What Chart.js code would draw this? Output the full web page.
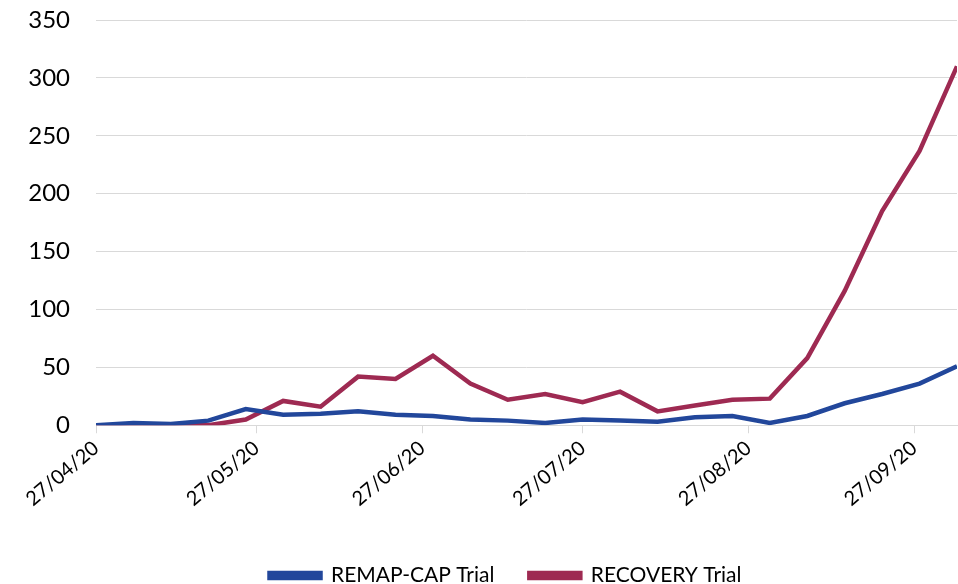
<!DOCTYPE html>
<html>
<head>
<meta charset="utf-8">
<script src="https://cdn.jsdelivr.net/npm/chart.js@4"></script>
<style>
  html, body { margin: 0; padding: 0; background: #fff; }
  #wrap { width: 958px; height: 584px; }
</style>
</head>
<body>
<div id="wrap"><canvas id="chart" width="958" height="584"></canvas></div>
<script>
// days since 27/04/20, weekly
const days = [0, 7, 14, 21, 28, 35, 42, 49, 56, 63, 70, 77, 84, 91, 98, 105, 112, 119, 126, 133, 140, 147, 154, 161];
const remapCap = [0, 2, 1, 4, 14, 9, 10, 12, 9, 8, 5, 4, 2, 5, 4, 3, 7, 8, 2, 8, 19, 27, 36, 51];
const recovery = [0, 0, 0, 0, 5, 21, 16, 42, 40, 60, 36, 22, 27, 20, 29, 12, 17, 22, 23, 58, 116, 185, 237, 310];
const tickDays = [0, 30, 61, 91, 122, 153];
const tickLabels = ['27/04/20', '27/05/20', '27/06/20', '27/07/20', '27/08/20', '27/09/20'];

const FONT = 'Lato, "Open Sans", sans-serif';
const toPoints = (vals) => vals.map((v, i) => ({ x: days[i], y: v }));

// legend sits a little right of centre in the original
const shiftLegend = {
  id: 'shiftLegend',
  afterLayout(chart) { chart.legend.left += 36; },
};

new Chart(document.getElementById('chart').getContext('2d'), {
  type: 'line',
  data: {
    datasets: [
      {
        label: 'REMAP-CAP Trial',
        data: toPoints(remapCap),
        borderColor: '#22479b',
        backgroundColor: '#22479b',
        borderWidth: 4.5,
        pointRadius: 0,
        tension: 0,
      },
      {
        label: 'RECOVERY Trial',
        data: toPoints(recovery),
        borderColor: '#9e2a52',
        backgroundColor: '#9e2a52',
        borderWidth: 4.5,
        pointRadius: 0,
        tension: 0,
      },
    ],
  },
  plugins: [shiftLegend],
  options: {
    responsive: false,
    animation: false,
    layout: { padding: { left: 18, right: 1, top: 20, bottom: -12 } },
    plugins: {
      legend: {
        position: 'bottom',
        labels: {
          color: '#000',
          font: { family: FONT, size: 21 },
          boxWidth: 51,
          boxHeight: 5,
          padding: 35,
        },
      },
      tooltip: { enabled: false },
    },
    scales: {
      x: {
        type: 'linear',
        min: 0,
        max: 161,
        afterBuildTicks: (scale) => { scale.ticks = tickDays.map(v => ({ value: v })); },
        afterFit: (scale) => { scale.paddingLeft = 0; scale.paddingRight = 0; scale.height += 16; },
        ticks: {
          color: '#000',
          font: { family: FONT, size: 20 },
          minRotation: 40,
          maxRotation: 40,
          autoSkip: false,
          callback: (v) => tickLabels[tickDays.indexOf(v)],
        },
        grid: { drawOnChartArea: false, drawTicks: true, tickLength: 8, color: '#d9d9d9' },
        border: { color: '#d9d9d9' },
      },
      y: {
        min: 0,
        max: 350,
        afterFit: (scale) => { scale.width = 78; scale.paddingTop = 0; scale.paddingBottom = 0; },
        ticks: {
          stepSize: 50,
          color: '#000',
          font: { family: FONT, size: 24 },
          padding: 26,
        },
        grid: { color: '#d9d9d9', drawTicks: false },
        border: { display: false },
      },
    },
  },
});
</script>
</body>
</html>
